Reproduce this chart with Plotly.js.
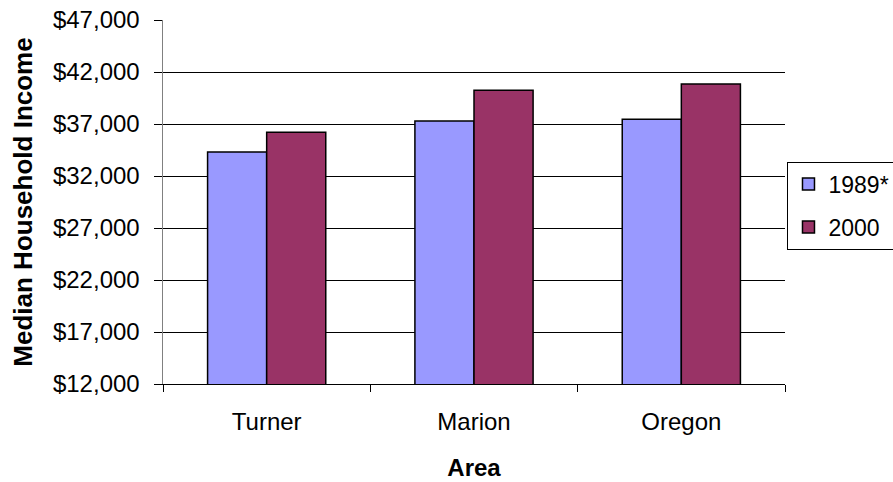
<!DOCTYPE html>
<html>
<head>
<meta charset="utf-8">
<script src="https://cdn.plot.ly/plotly-3.0.1.min.js"></script>
<style>html,body{margin:0;padding:0;background:#fff;}#chart{width:893px;height:482px;}</style>
</head>
<body>
<div id="chart"></div>
<script>
const categories = ["Turner", "Marion", "Oregon"];
const series1989 = [34300, 37300, 37450];
const series2000 = [36200, 40250, 40850];
const seriesNames = ["1989*", "2000"];
const yTickVals = [12000, 17000, 22000, 27000, 32000, 37000, 42000, 47000];
const yTickText = ["$12,000", "$17,000", "$22,000", "$27,000", "$32,000", "$37,000", "$42,000", "$47,000"];

const font = "Liberation Sans, Arial, sans-serif";
const traces = [
  {type: "bar", name: seriesNames[0], x: categories, y: series1989, legendgroup: "g1",
   marker: {color: "#9999FF", line: {color: "#000", width: 1.5}}},
  {type: "bar", name: seriesNames[1], x: categories, y: series2000, legendgroup: "g2",
   marker: {color: "#993366", line: {color: "#000", width: 1.5}}}
];
const layout = {
  width: 893, height: 482,
  margin: {l: 163, r: 108, t: 20, b: 98, autoexpand: false},
  paper_bgcolor: "#fff", plot_bgcolor: "#fff",
  barmode: "group", bargap: 0.43, bargroupgap: 0,
  font: {family: font, size: 24, color: "#000"},
  showlegend: true,
  legend: {x: 1.004, xanchor: "left", y: 0.49, yanchor: "middle",
    bordercolor: "#000", borderwidth: 1, bgcolor: "#fff",
    font: {family: font, size: 23, color: "#000"}, itemwidth: 30, tracegroupgap: 10},
  xaxis: {type: "category", showline: true, linecolor: "#000", linewidth: 1,
    ticks: "outside", tickson: "boundaries", ticklen: 7, tickcolor: "#000",
    ticklabelstandoff: 16, showgrid: false, zeroline: false,
    tickfont: {family: font, size: 24, color: "#000"},
    title: {text: "<b>Area</b>", font: {family: font, size: 24}, standoff: 25}},
  yaxis: {range: [12000, 47000], tickvals: yTickVals, ticktext: yTickText,
    showline: true, linecolor: "#808080", linewidth: 1.5,
    ticks: "outside", ticklen: 8, tickcolor: "#000", ticklabelstandoff: 9,
    showgrid: true, gridcolor: "#000", gridwidth: 1, zeroline: false,
    tickfont: {family: font, size: 24, color: "#000"},
    title: {text: "<b>Median Household Income</b>", font: {family: font, size: 26}, standoff: 13}}
};
Plotly.newPlot("chart", traces, layout, {displayModeBar: false, staticPlot: true});
</script>
</body>
</html>
